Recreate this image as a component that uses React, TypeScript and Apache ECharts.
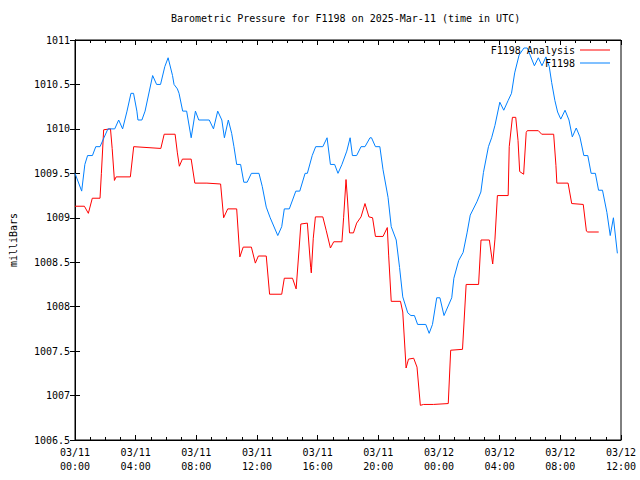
import React, { useEffect, useRef } from "react";
import * as echarts from "echarts";

const titleText = "Barometric Pressure for F1198 on 2025-Mar-11 (time in UTC)";
const yAxisName = "milliBars";
const analysisName = "F1198 Analysis";
const obsName = "F1198";

// hours since 03/11 00:00 UTC
const obsHours = [
  0, 0.44, 0.65, 0.83, 1.15, 1.37, 1.65, 1.91, 2.17, 2.62, 2.88, 3.14, 3.43, 3.69, 3.86, 4.08, 4.15, 4.41, 4.62,
  5.12, 5.38, 5.64, 5.92, 6.14, 6.43, 6.53, 6.75, 6.86, 7.1, 7.36, 7.66, 7.94, 8.16, 8.85, 9.13, 9.41, 9.68, 9.85,
  10.11, 10.33, 10.48, 10.66, 10.92, 11.13, 11.35, 11.63, 12.13, 12.35, 12.61, 12.87, 13.37, 13.63, 13.8, 14.13,
  14.56, 14.82, 15.17, 15.32, 15.64, 15.87, 16.34, 16.62, 16.84, 17.12, 17.34, 17.6, 17.92, 18.14, 18.29, 18.57,
  18.86, 19.12, 19.45, 19.55, 19.81, 20.1, 20.31, 20.64, 20.85, 21.18, 21.4, 21.61, 21.94, 22.15, 22.38, 22.59,
  23.13, 23.35, 23.57, 23.85, 24.06, 24.33, 24.84, 24.98, 25.3, 25.59, 25.85, 26.06, 26.5, 26.76, 26.93, 27.26,
  27.47, 27.69, 28.01, 28.27, 28.56, 28.78, 28.99, 29.28, 29.6, 29.82, 30.29, 30.55, 30.79, 31.05, 31.27, 31.43,
  31.64, 31.82, 32.03, 32.31, 32.57, 32.79, 33.05, 33.29, 33.55, 33.81, 34.03, 34.31, 34.52, 34.78, 35.07, 35.29,
  35.5, 35.76,
];
const obsValues = [
  1009.5, 1009.3, 1009.6, 1009.7, 1009.7, 1009.8, 1009.8, 1009.9, 1010.0, 1010.0, 1010.1, 1010.0, 1010.2, 1010.4,
  1010.4, 1010.2, 1010.1, 1010.1, 1010.2, 1010.6, 1010.5, 1010.5, 1010.7, 1010.8, 1010.6, 1010.5, 1010.45, 1010.4,
  1010.2, 1010.2, 1009.9, 1010.2, 1010.1, 1010.1, 1010.0, 1010.2, 1010.1, 1009.9, 1010.1, 1009.95, 1009.8, 1009.6,
  1009.6, 1009.4, 1009.4, 1009.5, 1009.5, 1009.35, 1009.12, 1009.0, 1008.8, 1008.9, 1009.1, 1009.1, 1009.3, 1009.3,
  1009.5, 1009.5, 1009.7, 1009.8, 1009.8, 1009.9, 1009.6, 1009.6, 1009.5, 1009.6, 1009.75, 1009.9, 1009.7, 1009.7,
  1009.8, 1009.8, 1009.9, 1009.9, 1009.8, 1009.8, 1009.54, 1009.23, 1008.9, 1008.75, 1008.44, 1008.11, 1007.93,
  1007.9, 1007.9, 1007.8, 1007.8, 1007.7, 1007.8, 1008.1, 1008.1, 1007.9, 1008.1, 1008.32, 1008.52, 1008.61,
  1008.83, 1009.03, 1009.18, 1009.29, 1009.51, 1009.8, 1009.9, 1010.04, 1010.3, 1010.21, 1010.32, 1010.4, 1010.63,
  1010.83, 1010.91, 1010.91, 1010.71, 1010.8, 1010.71, 1010.81, 1010.7, 1010.52, 1010.32, 1010.19, 1010.11,
  1010.21, 1010.1, 1009.91, 1010.01, 1009.91, 1009.7, 1009.7, 1009.5, 1009.5, 1009.31, 1009.31, 1009.06, 1008.8,
  1009.0, 1008.6,
];

const analysisHours = [
  0, 0.62, 0.88, 1.14, 1.65, 1.74, 1.89, 2.34, 2.45, 2.6, 2.71, 3.65, 3.87, 5.66, 5.88, 6.6, 6.75, 6.88, 7.08, 7.66,
  7.9, 8.7, 9.6, 9.8, 10.07, 10.66, 10.87, 11.09, 11.63, 11.89, 12.09, 12.61, 12.83, 13.63, 13.8, 14.34, 14.58,
  14.78, 14.89, 15.32, 15.54, 15.58, 15.71, 15.85, 16.34, 16.56, 16.84, 17.06, 17.6, 17.71, 17.87, 17.97, 18.1,
  18.36, 18.57, 18.86, 19.12, 19.38, 19.62, 19.81, 20.31, 20.59, 20.68, 20.85, 21.46, 21.61, 21.83, 21.99, 22.33,
  22.55, 22.77, 22.98, 23.63, 24.61, 24.77, 25.55, 25.79, 26.61, 26.77, 27.32, 27.54, 27.69, 27.85, 28.56, 28.63,
  28.84, 29.06, 29.21, 29.32, 29.58, 29.75, 29.82, 30.55, 30.77, 31.56, 31.71, 31.77, 32.51, 32.75, 33.51, 33.72,
  33.81, 34.53,
];
const analysisValues = [
  1009.13, 1009.13, 1009.05, 1009.22, 1009.22, 1009.5, 1009.99, 1010.0, 1009.78, 1009.42, 1009.46, 1009.46,
  1009.8, 1009.78, 1009.94, 1009.94, 1009.73, 1009.58, 1009.66, 1009.66, 1009.39, 1009.39, 1009.38, 1009.0,
  1009.1, 1009.1, 1008.56, 1008.67, 1008.67, 1008.49, 1008.57, 1008.57, 1008.14, 1008.14, 1008.32, 1008.32,
  1008.2, 1008.66, 1008.93, 1008.94, 1008.44, 1008.38, 1008.77, 1009.01, 1009.01, 1008.86, 1008.66, 1008.73,
  1008.73, 1009.0, 1009.43, 1009.2, 1008.83, 1008.83, 1008.94, 1009.01, 1009.16, 1009.01, 1009.0, 1008.79,
  1008.79, 1008.89, 1008.58, 1008.06, 1008.06, 1007.94, 1007.31, 1007.41, 1007.42, 1007.32, 1006.89, 1006.9,
  1006.9, 1006.91, 1007.51, 1007.52, 1008.25, 1008.25, 1008.75, 1008.75, 1008.48, 1008.76, 1009.25, 1009.25,
  1009.8, 1010.13, 1010.13, 1009.87, 1009.52, 1009.49, 1009.96, 1009.98, 1009.98, 1009.94, 1009.94, 1009.59,
  1009.39, 1009.39, 1009.16, 1009.15, 1008.85, 1008.84, 1008.84,
];

const FONT = "DejaVu Sans Mono";

function fmtHour(h: number): string {
  const day = h < 24 ? "03/11" : "03/12";
  const hh = Math.round(h % 24);
  return day + "\n" + (hh < 10 ? "0" : "") + hh + ":00";
}

export default function App() {
  const ref = useRef<HTMLDivElement>(null);
  useEffect(() => {
    if (!ref.current) return;
    const chart = echarts.init(ref.current, null, { renderer: "svg" });
    const obsData = obsHours.map((h, i) => [h, obsValues[i]]);
    const anaData = analysisHours.map((h, i) => [h, analysisValues[i]]);
    const legendCommon = {
      right: 30,
      orient: "vertical",
      align: "right",
      itemWidth: 30,
      itemHeight: 1,
      padding: 0,
      textStyle: { fontFamily: FONT, fontSize: 10, color: "#000" },
    };
    chart.setOption({
      animation: false,
      backgroundColor: "#ffffff",
      title: {
        text: titleText,
        left: 171,
        top: 13,
        padding: 0,
        textStyle: { fontFamily: FONT, fontSize: 10, fontWeight: "normal", color: "#000" },
      },
      legend: [
        { ...legendCommon, top: 45, data: [{ name: analysisName, icon: "rect" }] },
        { ...legendCommon, top: 58, data: [{ name: obsName, icon: "rect" }] },
      ],
      grid: {
        left: 68,
        right: 19,
        top: 40,
        bottom: 40,
        show: true,
        borderColor: "#000",
        borderWidth: 1,
        containLabel: false,
      },
      xAxis: [
        {
          type: "value",
          min: 0,
          max: 36,
          interval: 4,
          axisLine: { show: true, lineStyle: { color: "#000", width: 1 } },
          axisTick: { show: true, inside: true, length: 5, lineStyle: { color: "#000" } },
          minorTick: { show: true, splitNumber: 4, length: 3, lineStyle: { color: "#000" } },
          splitLine: { show: false },
          axisLabel: {
            formatter: (v: number) => fmtHour(v),
            fontFamily: FONT,
            fontSize: 10,
            color: "#000",
            lineHeight: 14,
            margin: 5,
            showMinLabel: true,
            showMaxLabel: true,
          },
        },
        {
          type: "value",
          position: "top",
          min: 0,
          max: 36,
          interval: 4,
          axisLine: { show: true, lineStyle: { color: "#000", width: 1 } },
          axisTick: { show: true, inside: true, length: 5, lineStyle: { color: "#000" } },
          minorTick: { show: true, splitNumber: 4, length: 3, lineStyle: { color: "#000" } },
          splitLine: { show: false },
          axisLabel: { show: false },
        },
      ],
      yAxis: [
        {
          type: "value",
          min: 1006.5,
          max: 1011,
          interval: 0.5,
          name: yAxisName,
          nameLocation: "middle",
          nameRotate: 90,
          nameGap: 57,
          nameTextStyle: { fontFamily: FONT, fontSize: 10, color: "#000" },
          axisLine: { show: true, lineStyle: { color: "#000", width: 1 } },
          axisTick: { show: true, inside: true, length: 5, lineStyle: { color: "#000" } },
          splitLine: { show: false },
          axisLabel: {
            fontFamily: FONT,
            fontSize: 10,
            color: "#000",
            margin: 5,
            formatter: (v: number) => String(v),
          },
        },
        {
          type: "value",
          position: "right",
          min: 1006.5,
          max: 1011,
          interval: 0.5,
          axisLine: { show: true, lineStyle: { color: "#000", width: 1 } },
          axisTick: { show: true, inside: true, length: 5, lineStyle: { color: "#000" } },
          splitLine: { show: false },
          axisLabel: { show: false },
        },
      ],
      series: [
        {
          name: analysisName,
          type: "line",
          data: anaData,
          symbol: "none",
          showSymbol: false,
          color: "#ff0000",
          lineStyle: { color: "#ff0000", width: 1 },
          xAxisIndex: 0,
          yAxisIndex: 0,
        },
        {
          name: obsName,
          type: "line",
          data: obsData,
          symbol: "none",
          showSymbol: false,
          color: "#0080ff",
          lineStyle: { color: "#0080ff", width: 1 },
          xAxisIndex: 0,
          yAxisIndex: 0,
        },
      ],
    });
    return () => chart.dispose();
  }, []);
  return <div ref={ref} style={{ width: 640, height: 480, position: "absolute", left: 0, top: 0 }} />;
}
